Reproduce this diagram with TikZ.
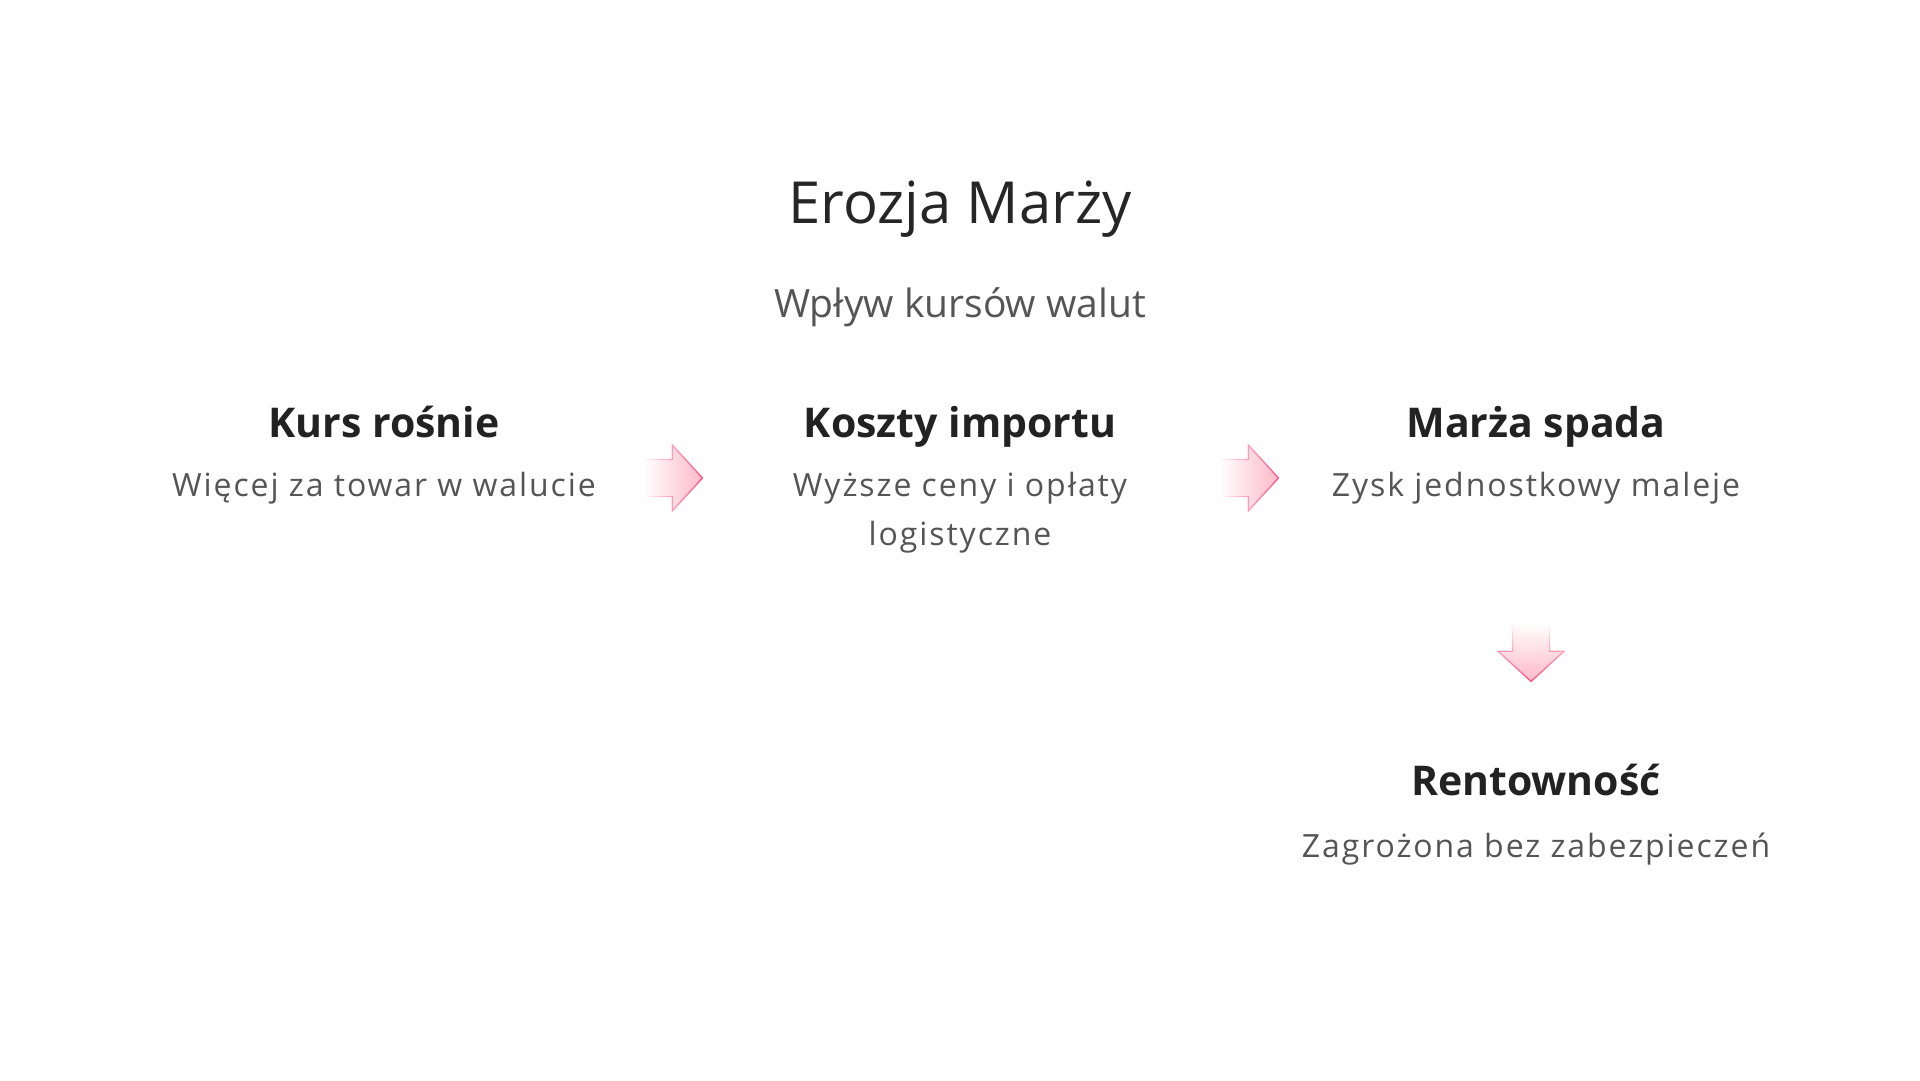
\documentclass[tikz,border=0pt]{standalone}
\usepackage{fontspec}
\setmainfont{Open Sans}
\usetikzlibrary{shapes.arrows,fadings,calc,positioning}
\definecolor{titlecol}{HTML}{262626}
\definecolor{headcol}{HTML}{222222}
\definecolor{desccol}{HTML}{555555}
\definecolor{arrowfill}{HTML}{FFB8C9}
\definecolor{arrowline}{HTML}{FF4C7A}
\tikzset{x=1pt, y=-1pt, inner sep=0pt, outer sep=0pt}
\tikzstyle{title} = [anchor=base, text=titlecol, font=\fontsize{58}{58}\selectfont]
\tikzstyle{subtitle} = [anchor=base, text=desccol, font=\fontsize{39}{39}\selectfont]
\tikzstyle{head} = [anchor=base, text=headcol, font=\fontsize{41}{41}\selectfont\bfseries]
\tikzstyle{desc} = [anchor=base, text=desccol, align=center, font=\fontsize{32}{49}\selectfont\addfontfeatures{LetterSpace=6}]
\tikzstyle{flow} = [single arrow, draw=arrowline, fill=arrowfill, line width=1.2pt,
  minimum height=58pt, minimum width=65pt, single arrow head extend=14.5pt,
  single arrow tip angle=95]
\tikzstyle{flowright} = [flow, path fading=west, inner xsep=0pt, inner ysep=18pt]
\tikzstyle{flowdown} = [flow, path fading=north, shape border rotate=270, inner xsep=18pt, inner ysep=0pt]

\begin{document}
\begin{tikzpicture}
		\useasboundingbox [fill=white] (0,0) rectangle (1920,1080);

		\node [title] (title) at (960,223) {Erozja Marży};
		\node [subtitle] (sub) at (960,317) {Wpływ kursów walut};

		\node [head] (kurs) at (384,437) {Kurs rośnie};
		\node [desc] (kurs_d) at (384,496) {Więcej za towar w walucie};

		\node [head] (koszty) at (960,437) {Koszty importu};
		\node [desc] (koszty_d) at (960,545) {Wyższe ceny i opłaty\\logistyczne};

		\node [head] (marza) at (1536,437) {Marża spada};
		\node [desc] (marza_d) at (1536,496) {Zysk jednostkowy maleje};

		\node [head] (rent) at (1536,795) {Rentowność};
		\node [desc] (rent_d) at (1536,857) {Zagrożona bez zabezpieczeń};

		% arrows between the steps
		\node [flowright, xshift=-7pt, yshift=-41pt] (a1) at ($(kurs.base)!0.5!(koszty.base)$) {};
		\node [flowright, xshift=-7pt, yshift=-41pt] (a2) at ($(koszty.base)!0.5!(marza.base)$) {};
		\node [flowdown, xshift=-5pt] (a3) at (1536,644) {};
\end{tikzpicture}
\end{document}
